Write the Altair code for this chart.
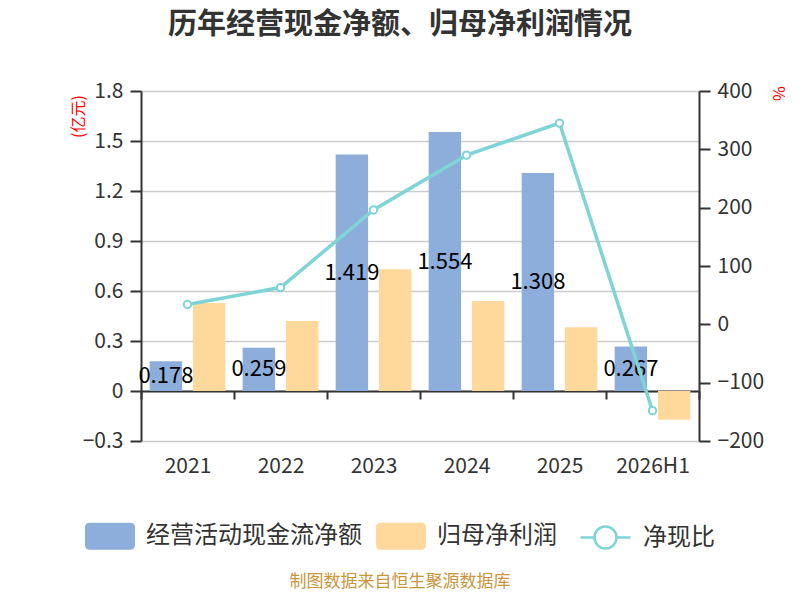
import pandas as pd
import altair as alt

# ---- data ----
years = ["2021", "2022", "2023", "2024", "2025", "2026H1"]
cash_flow = [0.178, 0.259, 1.419, 1.554, 1.308, 0.267]      # 经营活动现金流净额 (亿元)
net_profit = [0.528, 0.42, 0.73, 0.54, 0.382, -0.172]       # 归母净利润 (亿元)
cash_ratio = [34, 63, 196, 290, 345, -148]                  # 净现比 (%)

series_names = ["经营活动现金流净额", "归母净利润"]
ratio_name = "净现比"
left_ticks = [-0.3, 0, 0.3, 0.6, 0.9, 1.2, 1.5, 1.8]
right_ticks = [-200, -100, 0, 100, 200, 300, 400]
title_text = "历年经营现金净额、归母净利润情况"
source_note = "制图数据来自恒生聚源数据库"

font = "Noto Sans CJK SC"
blue, orange, cyan = "#8daddb", "#fed99b", "#7fd4d6"
dark = "#333333"

plot_w, plot_h = 558, 350
zero_px = plot_h * left_ticks[-1] / (left_ticks[-1] - left_ticks[0])

cash_df = pd.DataFrame({"year": years, "series": series_names[0], "value": cash_flow})
profit_df = pd.DataFrame({"year": years, "series": series_names[1], "value": net_profit})
ratio_df = pd.DataFrame({"year": years, "series": ratio_name, "ratio": cash_ratio})
note_df = pd.DataFrame({"note": [source_note]})

# legend symbols (custom svg paths, unit box scaled by sqrt(size)/2)
rect_path = ("M-0.8,-0.54 L0.8,-0.54 Q1,-0.54 1,-0.34 L1,0.34 Q1,0.54 0.8,0.54 "
             "L-0.8,0.54 Q-1,0.54 -1,0.34 L-1,-0.34 Q-1,-0.54 -0.8,-0.54 Z")
line_path = ("M-1,0 L-0.44,0 M0.44,0 L1,0 "
             "M0.44,0 C0.44,0.243 0.243,0.44 0,0.44 C-0.243,0.44 -0.44,0.243 -0.44,0 "
             "C-0.44,-0.243 -0.243,-0.44 0,-0.44 C0.243,-0.44 0.44,-0.243 0.44,0 Z")

# x axis line sits on zero, labels stay below the plot
x_enc = alt.X("year:N", sort=years, title=None,
              scale=alt.Scale(paddingInner=0, paddingOuter=0),
              axis=alt.Axis(offset=zero_px - plot_h, tickBand="extent", tickSize=8, tickWidth=2,
                            tickColor=dark, domainColor=dark, domainWidth=2, grid=False,
                            labelFontSize=21, labelColor=dark, labelFont=font,
                            labelPadding=56, labelAngle=0))

offset_enc = alt.XOffset("series:N", scale=alt.Scale(domain=series_names, paddingInner=0.25, paddingOuter=0.2))

color_enc = alt.Color("series:N",
                      scale=alt.Scale(domain=series_names, range=[blue, orange]),
                      legend=alt.Legend(title=None, orient="none", legendX=-56, legendY=420,
                                        direction="horizontal", symbolType=rect_path, symbolSize=2500,
                                        symbolStrokeWidth=0, labelFontSize=24, labelColor=dark,
                                        labelFont=font, labelOffset=11, labelLimit=400,
                                        columnPadding=14, padding=0))


def left_y(field):
    return alt.Y(field, title="(亿元)",
                 scale=alt.Scale(domain=[left_ticks[0], left_ticks[-1]], nice=False, zero=False),
                 axis=alt.Axis(orient="left", values=left_ticks, format=".1~f",
                               grid=True, gridColor="#cccccc", gridWidth=1.5,
                               domainColor=dark, domainWidth=2, tickColor=dark, tickWidth=2,
                               tickSize=11, labelFontSize=21, labelColor=dark, labelFont=font,
                               labelPadding=7, titleColor="red", titleFontSize=16, titleFont=font,
                               titleFontWeight="normal", titleAngle=270, titleX=-63, titleY=25,
                               titleAlign="center", titleBaseline="middle"))


right_y = alt.Y("ratio:Q", title="%",
                scale=alt.Scale(domain=[right_ticks[0], right_ticks[-1]], nice=False, zero=False),
                axis=alt.Axis(orient="right", values=right_ticks, grid=False,
                              domainColor=dark, domainWidth=2, tickColor=dark, tickWidth=2,
                              tickSize=11, labelFontSize=21, labelColor=dark, labelFont=font,
                              labelPadding=7, titleColor="red", titleFontSize=16, titleFont=font,
                              titleFontWeight="normal", titleAngle=90, titleX=78, titleY=2,
                              titleAlign="center", titleBaseline="middle"))

blue_bars = alt.Chart(cash_df).mark_bar().encode(
    x=x_enc, xOffset=offset_enc, y=left_y("value:Q"), color=color_enc)

# labels sit in the middle of the blue bars, under the orange ones
bar_labels = alt.Chart(cash_df).transform_calculate(mid="datum.value / 2").mark_text(
    fontSize=22, color="black", font=font, baseline="middle"
).encode(x=x_enc, xOffset=offset_enc, y=left_y("mid:Q"), text=alt.Text("value:Q", format=".3f"))

orange_bars = alt.Chart(profit_df).mark_bar().encode(
    x=x_enc, xOffset=offset_enc, y=left_y("value:Q"), color=color_enc)

note = alt.Chart(note_df).mark_text(fontSize=17, color="#c8963c", font=font).encode(
    x=alt.value(plot_w / 2 - 20), y=alt.value(491), text="note:N")

ratio_line = alt.Chart(ratio_df).mark_line(strokeWidth=3.5).encode(
    x=x_enc, y=right_y,
    stroke=alt.Stroke("series:N", scale=alt.Scale(domain=[ratio_name], range=[cyan]),
                      legend=alt.Legend(title=None, orient="none", legendX=438, legendY=420,
                                        symbolType=line_path, symbolSize=2500, symbolStrokeWidth=2.5,
                                        symbolFillColor="white", labelFontSize=24, labelColor=dark,
                                        labelFont=font, labelOffset=11, padding=0)))

ratio_points = alt.Chart(ratio_df).mark_point(
    filled=True, fill="white", stroke=cyan, strokeWidth=2, size=55, opacity=1
).encode(x=x_enc, y=right_y)

left = alt.layer(blue_bars, bar_labels, orange_bars, note)
right = alt.layer(ratio_line, ratio_points)

chart = alt.layer(left, right).resolve_scale(y="independent").properties(
    width=plot_w, height=plot_h,
    title=alt.TitleParams(title_text, fontSize=29, fontWeight="bold", color=dark, font=font,
                          anchor="middle", frame="group", dx=-20, offset=40),
    padding={"left": 133, "top": 83, "right": 93, "bottom": 151},
    autosize=alt.AutoSizeParams(type="none"),
).configure_view(stroke=None)

chart.save("out.html", embed_options={"renderer": "svg", "actions": False})
